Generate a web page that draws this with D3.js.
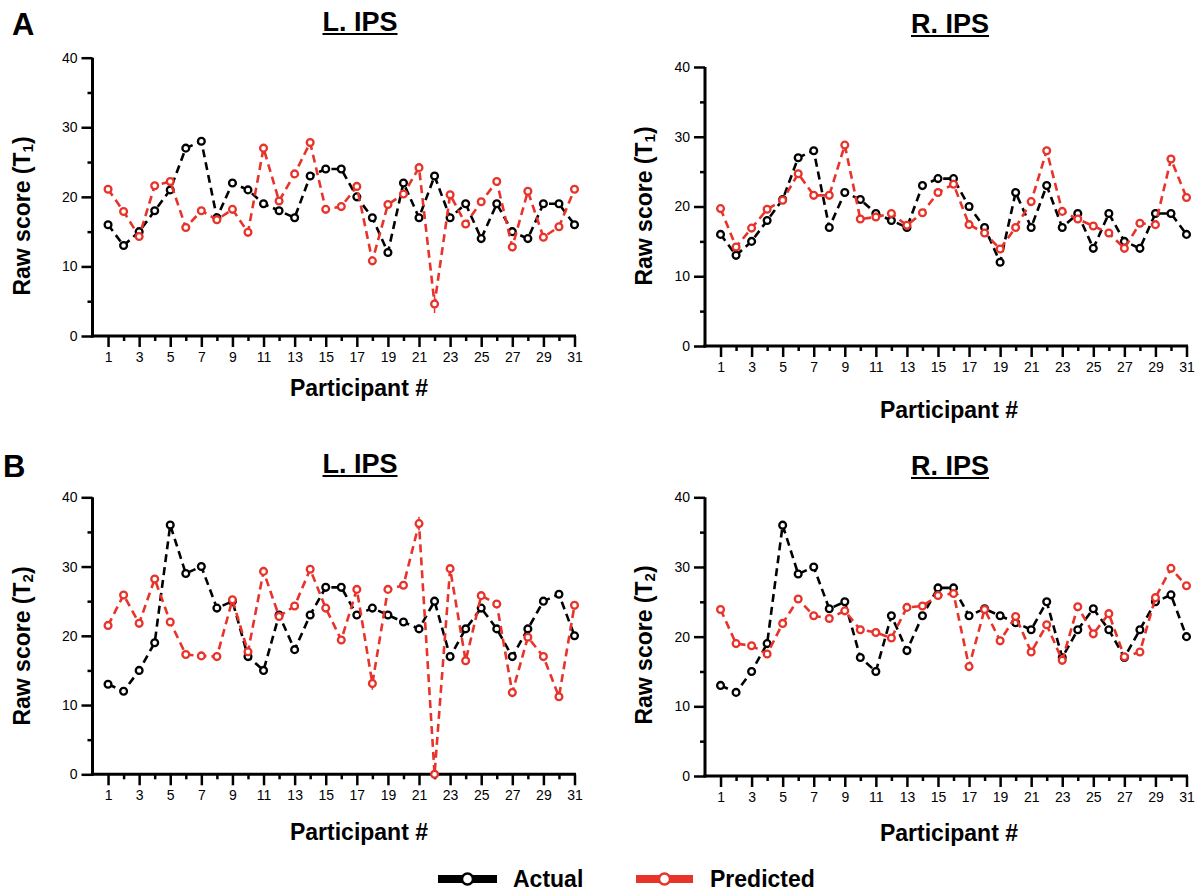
<!DOCTYPE html>
<html>
<head>
<meta charset="utf-8">
<script src="https://cdn.jsdelivr.net/npm/d3@7"></script>
<style>
  body { margin: 0; background: #fff; }
  svg { display: block; font-family: "Liberation Sans", Arial, Helvetica, sans-serif; }
</style>
</head>
<body>
<div id="chart"></div>
<script>
// participant numbers (x categories)
var participants = [1,2,3,4,5,6,7,8,9,10,11,12,13,14,15,16,17,18,19,20,21,22,23,24,25,26,27,28,29,30,31];

// actual raw scores at T1 and T2
var actualT1 = [16,13,15,18,21,27,28,17,22,21,19,18,17,23,24,24,20,17,12,22,17,23,17,19,14,19,15,14,19,19,16];
var actualT2 = [13,12,15,19,36,29,30,24,25,17,15,23,18,23,27,27,23,24,23,22,21,25,17,21,24,21,17,21,25,26,20];

// predicted scores from each region
var predT1Left  = [21.1,17.9,14.3,21.6,22.2,15.6,18.0,16.7,18.2,14.9,27.0,19.4,23.3,27.8,18.2,18.6,21.5,10.8,18.9,20.4,24.2,4.6,20.3,16.1,19.3,22.2,12.8,20.8,14.2,15.7,21.1];
var predT1Right = [19.7,14.2,16.9,19.6,20.9,24.7,21.6,21.6,28.8,18.2,18.5,19.0,17.3,19.1,22.0,23.2,17.4,16.2,13.9,17.0,20.7,28.0,19.3,18.2,17.2,16.2,14.0,17.6,17.4,26.8,21.3];
var predT2Left  = [21.5,25.9,21.8,28.2,22.0,17.3,17.1,17.0,25.2,17.7,29.3,22.8,24.3,29.6,24.0,19.4,26.7,13.1,26.7,27.3,36.2,0,29.7,16.4,25.8,24.6,11.8,19.8,17.0,11.2,24.4];
var predT2Right = [23.9,19.0,18.7,17.5,21.9,25.4,23.0,22.6,23.7,21.0,20.6,19.8,24.2,24.4,25.9,26.2,15.7,23.9,19.4,22.9,17.8,21.7,16.6,24.3,20.4,23.3,17.1,17.8,25.6,29.8,27.3];

// small error bars on a few predicted points: [participant, half-length]
var errT1Left = [[22, 1.3]];
var errT2Left = [[18, 0.9], [21, 1.0]];

var yMajor = [0,10,20,30,40];
var yMinor = [5,15,25,35];
var seriesNames = ["Actual", "Predicted"];

var red = "#e8332a";
var W = 1201, H = 894;

var svg = d3.select('#chart').append('svg')
    .attr('width', W)
    .attr('height', H);

// panel geometry
var panels = [
  { title: "L. IPS", sub: "1", actual: actualT1, pred: predT1Left, err: errT1Left,
    x0: 92.5, x1: 574.5, y0: 336, y1: 57.7, titleX: 360, titleY: 31, ytX: 30, ytY: 216, xtX: 359, xtY: 396 },
  { title: "R. IPS", sub: "1", actual: actualT1, pred: predT1Right, err: [],
    x0: 705, x1: 1186.5, y0: 346, y1: 67, titleX: 950, titleY: 33, ytX: 652, ytY: 206, xtX: 949, xtY: 418 },
  { title: "L. IPS", sub: "2", actual: actualT2, pred: predT2Left, err: errT2Left,
    x0: 92.5, x1: 574.5, y0: 774.3, y1: 497.3, titleX: 360, titleY: 473, ytX: 30, ytY: 646, xtX: 359, xtY: 840 },
  { title: "R. IPS", sub: "2", actual: actualT2, pred: predT2Right, err: [],
    x0: 705, x1: 1186.5, y0: 776, y1: 497.3, titleX: 950, titleY: 475, ytX: 652, ytY: 645, xtX: 949, xtY: 841 }
];

panels.forEach(function(p) {
  var x = d3.scaleLinear().domain([0, 31]).range([p.x0, p.x1]);
  var y = d3.scaleLinear().domain([0, 40]).range([p.y0, p.y1]);
  var g = svg.append('g');

  // y axis
  var yAxis = d3.axisLeft(y).tickValues(yMajor).tickSize(11).tickPadding(4).tickSizeOuter(0);
  var ya = g.append('g').attr('transform', 'translate(' + p.x0 + ',0)').call(yAxis);
  ya.select('.domain').attr('stroke-width', 3).attr('d', 'M0,' + (y(0) + 1.5) + 'V' + y(40));
  ya.selectAll('.tick line').attr('stroke-width', 2.5);
  ya.selectAll('.tick text').attr('font-size', 14).attr('fill', '#000');
  g.append('g').attr('transform', 'translate(' + p.x0 + ',0)')
    .call(d3.axisLeft(y).tickValues(yMinor).tickSize(5).tickFormat('').tickSizeOuter(0))
    .call(function(s) {
      s.select('.domain').remove();
      s.selectAll('.tick line').attr('stroke-width', 2.5);
    });

  // x axis
  var odd = participants.filter(function(d) { return d % 2 === 1; });
  var even = participants.filter(function(d) { return d % 2 === 0; });
  var xa = g.append('g').attr('transform', 'translate(0,' + p.y0 + ')')
    .call(d3.axisBottom(x).tickValues(odd).tickSize(11).tickPadding(5).tickSizeOuter(0));
  xa.select('.domain').attr('stroke-width', 3).attr('d', 'M' + (p.x0 - 1.5) + ',0H' + (x(31) + 1.5));
  xa.selectAll('.tick line').attr('stroke-width', 2.5);
  xa.selectAll('.tick text').attr('font-size', 14).attr('fill', '#000');
  g.append('g').attr('transform', 'translate(0,' + p.y0 + ')')
    .call(d3.axisBottom(x).tickValues(even).tickSize(5).tickFormat('').tickSizeOuter(0))
    .call(function(s) {
      s.select('.domain').remove();
      s.selectAll('.tick line').attr('stroke-width', 2.5);
    });

  // title with underline
  var t = g.append('text')
    .attr('x', p.titleX).attr('y', p.titleY)
    .attr('text-anchor', 'middle')
    .attr('font-size', 27).attr('font-weight', 'bold')
    .text(p.title);
  var tw = t.node().getComputedTextLength();
  g.append('line')
    .attr('x1', p.titleX - tw / 2).attr('x2', p.titleX + tw / 2)
    .attr('y1', p.titleY + 3).attr('y2', p.titleY + 3)
    .attr('stroke', '#000').attr('stroke-width', 2);

  // y axis title
  var yt = g.append('text')
    .attr('transform', 'translate(' + p.ytX + ',' + p.ytY + ') rotate(-90)')
    .attr('text-anchor', 'middle')
    .attr('font-size', 23).attr('font-weight', 'bold');
  yt.append('tspan').text('Raw score (T');
  yt.append('tspan').attr('font-size', 15).attr('dy', 3).text(p.sub);
  yt.append('tspan').attr('dy', -3).text(')');

  // x axis title
  g.append('text')
    .attr('x', p.xtX).attr('y', p.xtY)
    .attr('text-anchor', 'middle')
    .attr('font-size', 23).attr('font-weight', 'bold')
    .text('Participant #');

  var line = d3.line()
    .x(function(d, i) { return x(participants[i]); })
    .y(function(d) { return y(d); });

  [{ vals: p.actual, col: '#000' }, { vals: p.pred, col: red }].forEach(function(s, si) {
    g.append('path')
      .datum(s.vals)
      .attr('d', line)
      .attr('fill', 'none')
      .attr('stroke', s.col)
      .attr('stroke-width', 2.6)
      .attr('stroke-dasharray', '8,5');

    if (si === 1) {
      g.selectAll('.err')
        .data(p.err)
        .enter().append('line')
        .attr('x1', function(d) { return x(d[0]); })
        .attr('x2', function(d) { return x(d[0]); })
        .attr('y1', function(d) { return y(s.vals[d[0] - 1] - d[1]); })
        .attr('y2', function(d) { return y(s.vals[d[0] - 1] + d[1]); })
        .attr('stroke', s.col).attr('stroke-width', 1.5);
    }

    g.selectAll(null)
      .data(s.vals)
      .enter().append('circle')
      .attr('cx', function(d, i) { return x(participants[i]); })
      .attr('cy', function(d) { return y(d); })
      .attr('r', 3.4)
      .attr('fill', '#fff')
      .attr('stroke', s.col)
      .attr('stroke-width', 2.3);
  });
});

// panel letters
svg.append('text').attr('x', 12).attr('y', 35)
  .attr('font-size', 31).attr('font-weight', 'bold').text('A');
svg.append('text').attr('x', 3).attr('y', 477)
  .attr('font-size', 31).attr('font-weight', 'bold').text('B');

// legend
var legend = [
  { name: seriesNames[0], col: '#000', x1: 438, x2: 497, tx: 513 },
  { name: seriesNames[1], col: red, x1: 636, x2: 693, tx: 710 }
];
var lg = svg.append('g');
legend.forEach(function(l) {
  lg.append('line')
    .attr('x1', l.x1).attr('x2', l.x2).attr('y1', 879).attr('y2', 879)
    .attr('stroke', l.col).attr('stroke-width', 8);
  lg.append('circle')
    .attr('cx', (l.x1 + l.x2) / 2).attr('cy', 879).attr('r', 5.5)
    .attr('fill', '#fff').attr('stroke', l.col).attr('stroke-width', 2.5);
  lg.append('text')
    .attr('x', l.tx).attr('y', 887)
    .attr('font-size', 23).attr('font-weight', 'bold')
    .text(l.name);
});
</script>
</body>
</html>
